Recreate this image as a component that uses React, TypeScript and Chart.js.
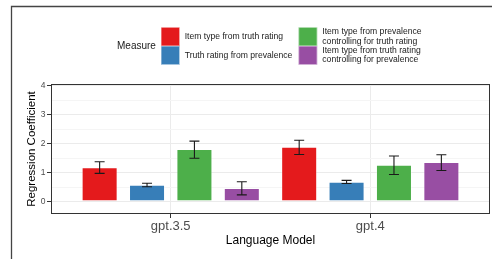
import React, { useEffect, useRef } from "react";
import { Chart, registerables } from "chart.js";

Chart.register(...registerables);

const FONT = "'Liberation Sans', Arial, Helvetica, sans-serif";

// ---- data ----
const categories = ["gpt.3.5", "gpt.4"];
const measures = [
  "Item type from truth rating",
  "Truth rating from prevalence",
  "Item type from prevalence\ncontrolling for truth rating",
  "Item type from truth rating\ncontrolling for prevalence",
];
const colors = ["#E41A1C", "#377EB8", "#4DAF4A", "#984EA3"];

const typeFromTruth = [1.19, 1.9];
const typeFromTruthLow = [0.98, 1.63];
const typeFromTruthHigh = [1.38, 2.12];

const truthFromPrev = [0.59, 0.69];
const truthFromPrevLow = [0.52, 0.63];
const truthFromPrevHigh = [0.64, 0.74];

const typeFromPrevCtrl = [1.82, 1.28];
const typeFromPrevCtrlLow = [1.5, 0.94];
const typeFromPrevCtrlHigh = [2.09, 1.58];

const typeFromTruthCtrl = [0.48, 1.37];
const typeFromTruthCtrlLow = [0.24, 1.08];
const typeFromTruthCtrlHigh = [0.69, 1.62];

const yMajorTicks = [0, 1, 2, 3, 4];
const yMinorTicks = [0.5, 1.5, 2.5, 3.5];
const xTickValues = [1, 2];

const legendTitle = "Measure";
const xTitle = "Language Model";
const yTitle = "Regression Coefficient";

const seriesValues = [typeFromTruth, truthFromPrev, typeFromPrevCtrl, typeFromTruthCtrl];
const seriesLow = [typeFromTruthLow, truthFromPrevLow, typeFromPrevCtrlLow, typeFromTruthCtrlLow];
const seriesHigh = [typeFromTruthHigh, truthFromPrevHigh, typeFromPrevCtrlHigh, typeFromTruthCtrlHigh];

const errorBarPlugin = {
  id: "errorBars",
  afterDatasetsDraw(chart: any) {
    const ctx = chart.ctx;
    const xs = chart.scales.x;
    const ys = chart.scales.y;
    const half = (xs.getPixelForValue(1.025) - xs.getPixelForValue(1));
    ctx.save();
    ctx.strokeStyle = "#1a1a1a";
    ctx.lineWidth = 1.1;
    chart.data.datasets.forEach((_: any, i: number) => {
      const meta = chart.getDatasetMeta(i);
      meta.data.forEach((el: any, j: number) => {
        const x = el.x;
        const yl = ys.getPixelForValue(seriesLow[i][j]);
        const yh = ys.getPixelForValue(seriesHigh[i][j]);
        ctx.beginPath();
        ctx.moveTo(x, yl);
        ctx.lineTo(x, yh);
        ctx.moveTo(x - half, yl);
        ctx.lineTo(x + half, yl);
        ctx.moveTo(x - half, yh);
        ctx.lineTo(x + half, yh);
        ctx.stroke();
      });
    });
    ctx.restore();
  },
};

const framePlugin = {
  id: "frames",
  beforeDraw(chart: any) {
    const ctx = chart.ctx;
    ctx.save();
    ctx.fillStyle = "#ffffff";
    ctx.fillRect(0, 0, chart.width, chart.height);
    ctx.strokeStyle = "#444444";
    ctx.lineWidth = 1.3;
    ctx.beginPath();
    ctx.moveTo(11.5, chart.height + 2);
    ctx.lineTo(11.5, 6.5);
    ctx.lineTo(chart.width + 2, 6.5);
    ctx.stroke();
    ctx.restore();
  },
  afterDraw(chart: any) {
    const { ctx, chartArea } = chart;
    ctx.save();
    ctx.strokeStyle = "#333333";
    ctx.lineWidth = 1;
    ctx.strokeRect(
      chartArea.left + 0.5,
      chartArea.top + 0.5,
      chartArea.right - chartArea.left - 1,
      chartArea.bottom - chartArea.top - 1
    );
    // legend
    ctx.fillStyle = "#1a1a1a";
    ctx.textBaseline = "middle";
    ctx.textAlign = "left";
    ctx.font = `10px ${FONT}`;
    ctx.fillText(legendTitle, 117, 46.5);
    const keyW = 18.6;
    const keyH = 18.7;
    const colX = [161, 298.6];
    const rowY = [27.3, 46];
    ctx.font = `8.6px ${FONT}`;
    measures.forEach((m, i) => {
      const col = Math.floor(i / 2);
      const row = i % 2;
      const kx = colX[col];
      const ky = rowY[row];
      ctx.fillStyle = colors[i];
      ctx.fillRect(kx, ky, keyW, keyH);
      ctx.strokeStyle = "rgba(255,255,255,0.6)";
      ctx.lineWidth = 0.6;
      ctx.strokeRect(kx + 0.3, ky + 0.3, keyW - 0.6, keyH - 0.6);
      const lines = m.split("\n");
      const lh = 9.5;
      const cy = ky + keyH / 2;
      ctx.fillStyle = "#1a1a1a";
      lines.forEach((ln, k) => {
        ctx.fillText(ln, kx + 23.7, cy - ((lines.length - 1) * lh) / 2 + k * lh);
      });
    });
    ctx.restore();
  },
};

export default function App() {
  const ref = useRef<HTMLCanvasElement | null>(null);
  useEffect(() => {
    if (!ref.current) return;
    const chart = new Chart(ref.current, {
      type: "bar",
      data: {
        datasets: measures.map((m, i) => ({
          label: m,
          data: categories.map((_, j) => ({ x: j + 1, y: seriesValues[i][j] })),
          backgroundColor: colors[i],
          borderColor: "rgba(255,255,255,0.35)",
          borderWidth: 1,
          borderSkipped: false,
          categoryPercentage: 0.95,
          barPercentage: 0.76,
        })),
      },
      options: {
        responsive: false,
        animation: false,
        layout: { padding: { top: 84, right: 2, bottom: 0, left: 0 } },
        plugins: { legend: { display: false }, tooltip: { enabled: false } },
        scales: {
          x: {
            type: "linear",
            min: 0.4,
            max: 2.6,
            offset: false,
            afterBuildTicks(scale: any) {
              scale.ticks = xTickValues.map((v) => ({ value: v }));
            },
            afterFit(scale: any) {
              scale.height = 45;
            },
            ticks: {
              autoSkip: false,
              maxRotation: 0,
              padding: 1,
              color: "#4d4d4d",
              font: { family: FONT, size: 13 },
              callback: (v: any) => categories[Number(v) - 1] ?? "",
            },
            grid: {
              offset: false,
              color: "#ebebeb",
              lineWidth: 1,
              tickColor: "#333333",
              tickLength: 4,
              drawTicks: true,
            },
            border: { display: false },
            title: {
              display: true,
              text: xTitle,
              color: "#000000",
              font: { family: FONT, size: 12 },
              padding: { top: 0, bottom: 11 },
            },
          },
          y: {
            type: "linear",
            min: -0.42,
            max: 4.06,
            afterBuildTicks(scale: any) {
              scale.ticks = [...yMajorTicks, ...yMinorTicks]
                .sort((a, b) => a - b)
                .map((v) => ({ value: v }));
            },
            afterFit(scale: any) {
              scale.width = 51;
            },
            ticks: {
              autoSkip: false,
              padding: 1.5,
              color: "#4d4d4d",
              font: { family: FONT, size: 8.5 },
              callback: (v: any) => (yMajorTicks.includes(Number(v)) ? String(v) : ""),
            },
            grid: {
              color: (c: any) =>
                yMajorTicks.includes(c.tick?.value) ? "#ebebeb" : "#f5f5f5",
              lineWidth: 1,
              tickColor: (c: any) =>
                yMajorTicks.includes(c.tick?.value) ? "#333333" : "rgba(0,0,0,0)",
              tickLength: 4,
            },
            border: { display: false },
            title: {
              display: true,
              text: yTitle,
              color: "#000000",
              font: { family: FONT, size: 11.5 },
              padding: { top: 25, bottom: 0 },
            },
          },
        },
      },
      plugins: [framePlugin, errorBarPlugin],
    } as any);
    return () => chart.destroy();
  }, []);
  return (
    <div style={{ position: "fixed", left: 0, top: 0, width: 492, height: 259 }}>
      <canvas ref={ref} width={492} height={259} style={{ display: "block" }} />
    </div>
  );
}
